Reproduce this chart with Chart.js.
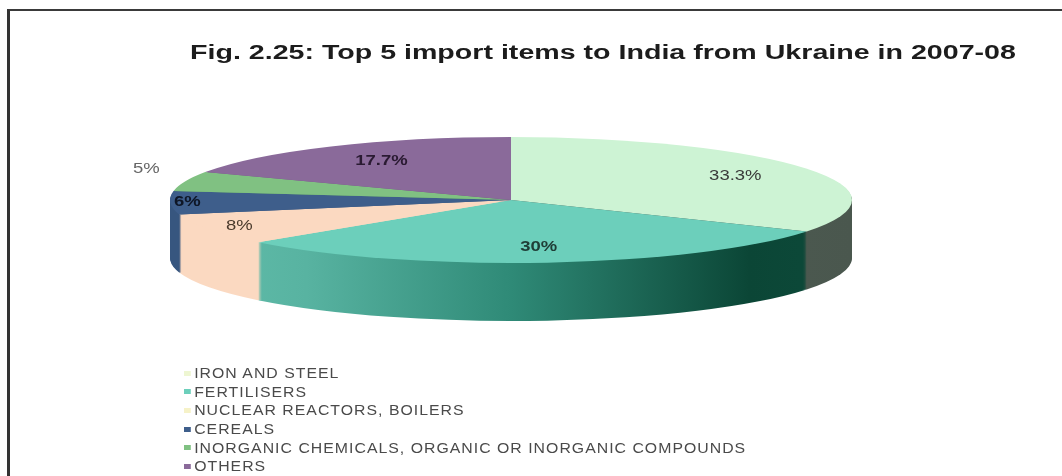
<!DOCTYPE html>
<html lang="en">
<head>
<meta charset="UTF-8">
<title>Top 5 import items to India from Ukraine in 2007-08</title>
<script src="https://cdn.jsdelivr.net/npm/chart.js"></script>
<style>
  html, body { margin: 0; padding: 0; background: #fff; }
  #wrap { position: relative; width: 1062px; height: 476px; overflow: hidden;
          font-family: "Liberation Sans", Arial, sans-serif; }
  #frame { position: absolute; left: 7px; top: 9px; right: -6px; bottom: -6px;
           border-top: 2px solid #3a3a3a; border-left: 3px solid #333; }
  canvas { position: absolute; left: 0; top: 0; }
  #legend { position: absolute; left: 184px; top: 364px; font-size: 14px;
            color: #4a4a4a; letter-spacing: 0.9px;
            transform: scaleX(1.13); transform-origin: 0 0; }
  .row { display: flex; align-items: center; height: 18.6px; white-space: nowrap; }
  .sw { width: 6px; height: 5px; margin-right: 3px; }
</style>
</head>
<body>
<div id="wrap">
  <div id="frame"></div>
  <canvas id="pie" width="1062" height="476"></canvas>
  <div id="legend"></div>
</div>

<script>
  // import items and their share (%)
  const categories = [
    "IRON AND STEEL",
    "FERTILISERS",
    "NUCLEAR REACTORS, BOILERS",
    "CEREALS",
    "INORGANIC CHEMICALS, ORGANIC OR INORGANIC COMPOUNDS",
    "OTHERS"
  ];
  const shares = [33.3, 30, 8, 6, 5, 17.7];
  const titleText = "Fig. 2.25: Top 5 import items to India from Ukraine in 2007-08";

  const faceColors   = ["#cdf3d4", "#6ccfbb", "#fbd9c1", "#3e5e8b", "#80c182", "#8a6a9a"];
  const sideColors   = [["#56665b", "#4a574e"], ["#62bfac", "#0d4a3a"], ["#fbd9c1", "#fbd9c1"],
                        ["#37567f", "#37567f"], ["#6aa86c", "#5a9a5c"], ["#765a86", "#6a4f78"]];
  const legendColors = ["#eef6d2", "#6ccfbb", "#f6f2c8", "#3e5e8b", "#80c182", "#8a6a9a"];
  const labelColors  = ["#3a3a3a", "#1f3d36", "#4a3a2c", "#0e1626", "#666", "#2a1a32"];
  const labelBold    = [false, true, false, true, false, true];

  // projected ellipse of the tilted pie
  const CX = 511, CY = 200, RX = 341, RY = 63, DEPTH = 58;
  const STRETCH = 1.32;   // wide lettering

  function squash(ctx, arc) {
    ctx.translate(CX, CY);
    ctx.scale(RX / arc.outerRadius, RY / arc.outerRadius);
    ctx.translate(-arc.x, -arc.y);
  }

  /* 3d look: walls first, then the flattened top face */
  const tilt = {
    id: "tilt",
    beforeDatasetsDraw(chart) {
      const ctx = chart.ctx;
      const arcs = chart.getDatasetMeta(0).data;
      const a0 = arcs[0];
      for (let k = DEPTH; k >= 1; k--) {
        ctx.save();
        ctx.translate(0, k);
        squash(ctx, a0);
        arcs.forEach((arc, i) => {
          const g = ctx.createLinearGradient(a0.x - a0.outerRadius, 0, a0.x + a0.outerRadius, 0);
          g.addColorStop(0, sideColors[i][0]);
          if (i === 1) {
            g.addColorStop(0.2, "#58b3a1");
            g.addColorStop(0.5, "#2f8a77");
            g.addColorStop(0.85, "#0b4636");
          }
          g.addColorStop(1, sideColors[i][1]);
          const keep = arc.options.backgroundColor;
          arc.options.backgroundColor = g;
          arc.draw(ctx);
          arc.options.backgroundColor = keep;
        });
        ctx.restore();
      }
      ctx.save();
      squash(ctx, a0);
    },
    afterDatasetsDraw(chart) {
      const ctx = chart.ctx;
      ctx.restore();
      const arcs = chart.getDatasetMeta(0).data;
      ctx.save();
      ctx.textAlign = "center";
      ctx.textBaseline = "middle";
      arcs.forEach((arc, i) => {
        const a = (arc.startAngle + arc.endAngle) / 2;
        const outside = shares[i] < 5.5;
        const f = outside ? 1.12 : shares[i] < 7 ? 0.95 : shares[i] < 10 ? 0.9 : shares[i] < 20 ? 0.72 : 0.76;
        const x = CX + Math.cos(a) * RX * f;
        const y = CY + Math.sin(a) * RY * f - (outside ? 10 : 0);
        ctx.save();
        ctx.translate(x, y);
        ctx.scale(STRETCH, 1);
        ctx.font = (labelBold[i] ? "bold " : "") + "14px 'Liberation Sans', Arial, sans-serif";
        ctx.fillStyle = labelColors[i];
        ctx.fillText(shares[i] + "%", 0, 0);
        ctx.restore();
      });
      ctx.restore();
    },
    afterDraw(chart) {
      // chart heading, widened
      const ctx = chart.ctx;
      ctx.save();
      ctx.translate(190, 59);
      ctx.scale(1.43, 1);
      ctx.font = "bold 20px 'Liberation Sans', Arial, sans-serif";
      ctx.fillStyle = "#1c1c1c";
      ctx.textBaseline = "alphabetic";
      ctx.fillText(titleText, 0, 0);
      ctx.restore();
    }
  };

  new Chart(document.getElementById("pie"), {
    type: "pie",
    data: {
      labels: categories,
      datasets: [{ data: shares, backgroundColor: faceColors, borderWidth: 0, clip: false }]
    },
    options: {
      responsive: false,
      animation: false,
      events: [],
      layout: { padding: { top: 60 } },
      plugins: {
        legend: { display: false },
        tooltip: { enabled: false },
        title: { display: false }
      }
    },
    plugins: [tilt]
  });

  /* legend list */
  const legend = document.getElementById("legend");
  categories.forEach((name, i) => {
    legend.insertAdjacentHTML("beforeend",
      `<div class="row"><span class="sw" style="background:${legendColors[i]}"></span>${name}</div>`);
  });
</script>
</body>
</html>
